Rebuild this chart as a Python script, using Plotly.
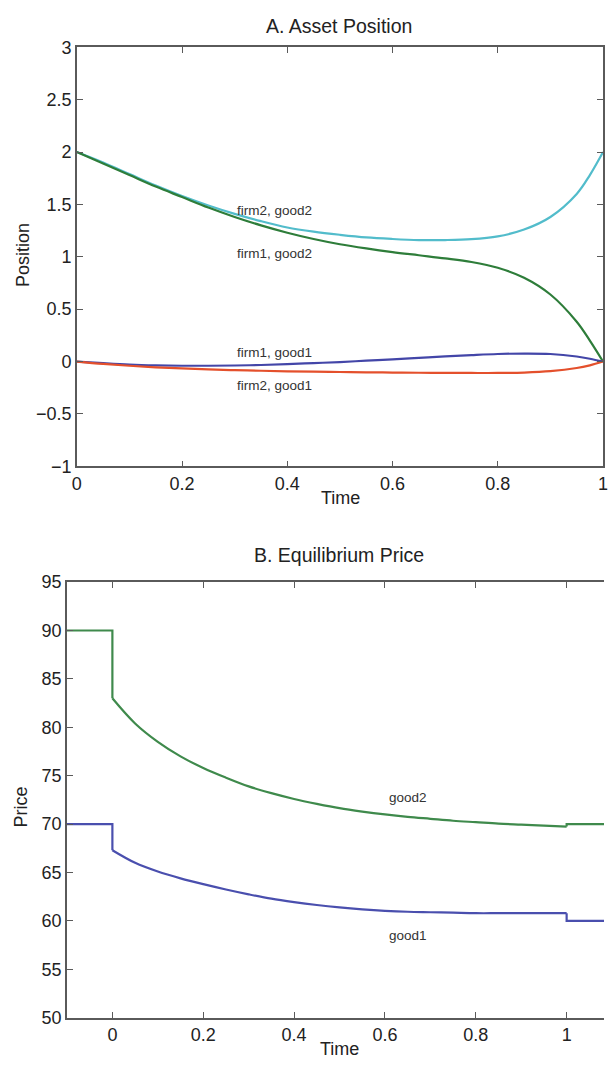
import plotly.graph_objects as go

W, H = 609, 1068

# ---------- Panel A data ----------
t_a = [0.0, 0.05, 0.1, 0.15, 0.2, 0.25, 0.3, 0.35, 0.4, 0.45, 0.5, 0.55, 0.6,
       0.65, 0.7, 0.75, 0.8, 0.85, 0.9, 0.95, 0.975, 1.0]
firm2_good2 = [2.00, 1.90, 1.79, 1.68, 1.58, 1.49, 1.41, 1.34, 1.28, 1.24, 1.21, 1.185, 1.17,
               1.16, 1.16, 1.168, 1.195, 1.26, 1.38, 1.60, 1.78, 2.00]
firm1_good2 = [2.00, 1.89, 1.78, 1.67, 1.57, 1.47, 1.38, 1.30, 1.23, 1.17, 1.12, 1.08, 1.045,
               1.015, 0.985, 0.95, 0.895, 0.80, 0.64, 0.38, 0.20, 0.00]
firm1_good1 = [0.00, -0.015, -0.028, -0.036, -0.04, -0.04, -0.038, -0.033, -0.025, -0.015, -0.005,
               0.008, 0.02, 0.035, 0.05, 0.062, 0.072, 0.076, 0.072, 0.048, 0.027, 0.00]
firm2_good1 = [0.00, -0.022, -0.04, -0.055, -0.066, -0.075, -0.082, -0.088, -0.093, -0.097, -0.100,
               -0.103, -0.105, -0.107, -0.108, -0.109, -0.109, -0.105, -0.092, -0.062, -0.036, 0.00]

# ---------- Panel B data ----------
t_b = [0.0, 0.05, 0.1, 0.15, 0.2, 0.25, 0.3, 0.35, 0.4, 0.45, 0.5, 0.55, 0.6,
       0.65, 0.7, 0.75, 0.8, 0.85, 0.9, 0.95, 1.0]
price_good2 = [83.0, 80.4, 78.5, 77.0, 75.8, 74.8, 73.9, 73.2, 72.6, 72.1, 71.65, 71.3, 71.0,
               70.75, 70.55, 70.35, 70.2, 70.05, 69.95, 69.85, 69.75]
price_good1 = [67.3, 66.0, 65.1, 64.4, 63.8, 63.25, 62.75, 62.3, 61.95, 61.65, 61.4, 61.2, 61.05,
               60.95, 60.9, 60.85, 60.8, 60.8, 60.8, 60.8, 60.8]
t_pre = [-0.1, 0.0]
t_post = [1.0, 1.1]
good2_pre, good2_post = [90, 90], [70, 70]
good1_pre, good1_post = [70, 70], [60, 60]

x_ticks_a = [0, 0.2, 0.4, 0.6, 0.8, 1]
y_ticks_a = [-1, -0.5, 0, 0.5, 1, 1.5, 2, 2.5, 3]
x_ticks_b = [0, 0.2, 0.4, 0.6, 0.8, 1]
y_ticks_b = [50, 55, 60, 65, 70, 75, 80, 85, 90, 95]

FONT = "Liberation Sans, Arial, sans-serif"
AX = "#5a5a5a"
C_CYAN, C_GREEN_A, C_BLUE_A, C_RED = "#52bccb", "#2e7d3a", "#4346a8", "#e4502c"
C_GREEN_B, C_BLUE_B = "#3f8a4c", "#4a4fae"

fig = go.Figure()
for ys, col in [(firm2_good2, C_CYAN), (firm1_good2, C_GREEN_A), (firm1_good1, C_BLUE_A), (firm2_good1, C_RED)]:
    fig.add_trace(go.Scatter(x=t_a, y=ys, mode="lines", line=dict(color=col, width=2.2, shape="spline"),
                             xaxis="x", yaxis="y"))

for curve, pre, post, col in [(price_good2, good2_pre, good2_post, C_GREEN_B),
                              (price_good1, good1_pre, good1_post, C_BLUE_B)]:
    # level before t=0 and the jump at t=0
    fig.add_trace(go.Scatter(x=t_pre + [t_b[0]], y=pre + [curve[0]], mode="lines",
                             line=dict(color=col, width=2.2), xaxis="x2", yaxis="y2"))
    # smooth adjustment path
    fig.add_trace(go.Scatter(x=t_b, y=curve, mode="lines", line=dict(color=col, width=2.2, shape="spline"),
                             xaxis="x2", yaxis="y2"))
    # jump at t=1 and level after
    fig.add_trace(go.Scatter(x=[t_b[-1]] + t_post, y=[curve[-1]] + post, mode="lines",
                             line=dict(color=col, width=2.2), xaxis="x2", yaxis="y2"))


def px_x(p):
    return p / W


def px_y(p):
    return 1 - p / H


axis_common = dict(showgrid=False, zeroline=False, showline=True, linecolor=AX, linewidth=1.5,
                   ticks="inside", ticklen=6, tickcolor=AX, tickwidth=1.2,
                   tickfont=dict(family=FONT, size=18, color="#222"))

fig.update_layout(
    width=W, height=H, margin=dict(l=0, r=0, t=0, b=0),
    paper_bgcolor="white", plot_bgcolor="white", showlegend=False,
    xaxis=dict(domain=[px_x(73), px_x(608)], range=[0, 1], anchor="y", tickvals=x_ticks_a,
               ticktext=[str(v) for v in x_ticks_a], mirror="ticks", ticklabeloverflow="allow",
               **axis_common),
    yaxis=dict(domain=[px_y(465), px_y(38)], range=[-1, 3], anchor="x", tickvals=y_ticks_a,
               mirror="ticks", **axis_common),
    xaxis2=dict(domain=[px_x(63), 1], range=[-0.1, (609 - 109) / 462.0], anchor="y2", tickvals=x_ticks_b,
                ticktext=[str(v) for v in x_ticks_b], mirror="ticks", ticklabeloverflow="allow",
                **axis_common),
    yaxis2=dict(domain=[px_y(1027), px_y(583)], range=[50, 95], anchor="x2", tickvals=y_ticks_b,
                mirror=False, **axis_common),
)

ann = []
def add_text(text, x, y, size, rot=0, color="#222", xanchor="center"):
    ann.append(dict(text=text, x=x, y=y, xref="paper", yref="paper", showarrow=False,
                    font=dict(family=FONT, size=size, color=color), textangle=rot,
                    xanchor=xanchor, yanchor="middle"))

add_text("A. Asset Position", px_x(340), px_y(16), 19.5)
add_text("Position", px_x(19), px_y(250), 18, rot=-90)
add_text("Time", px_x(341), px_y(497), 18)
add_text("B. Equilibrium Price", px_x(340), px_y(555), 19.5)
add_text("Price", px_x(16), px_y(812), 18, rot=-90)
add_text("Time", px_x(340), px_y(1059), 18)

# curve labels in data coordinates
for txt, xv, yv in [("firm2, good2", 0.3, 1.44), ("firm1, good2", 0.3, 1.03),
                    ("firm1, good1", 0.3, 0.09), ("firm2, good1", 0.3, -0.23)]:
    ann.append(dict(text=txt, x=xv, y=yv, xref="x", yref="y", showarrow=False, xanchor="left",
                    font=dict(family=FONT, size=13.5, color="#333")))
for txt, xv, yv in [("good2", 0.65, 72.7), ("good1", 0.65, 58.5)]:
    ann.append(dict(text=txt, x=xv, y=yv, xref="x2", yref="y2", showarrow=False,
                    font=dict(family=FONT, size=13.5, color="#333")))

fig.update_layout(annotations=ann)
fig.write_html("out.html", config={"displayModeBar": False},
               post_script="document.body.style.margin='0px';document.body.style.overflow='hidden';")
